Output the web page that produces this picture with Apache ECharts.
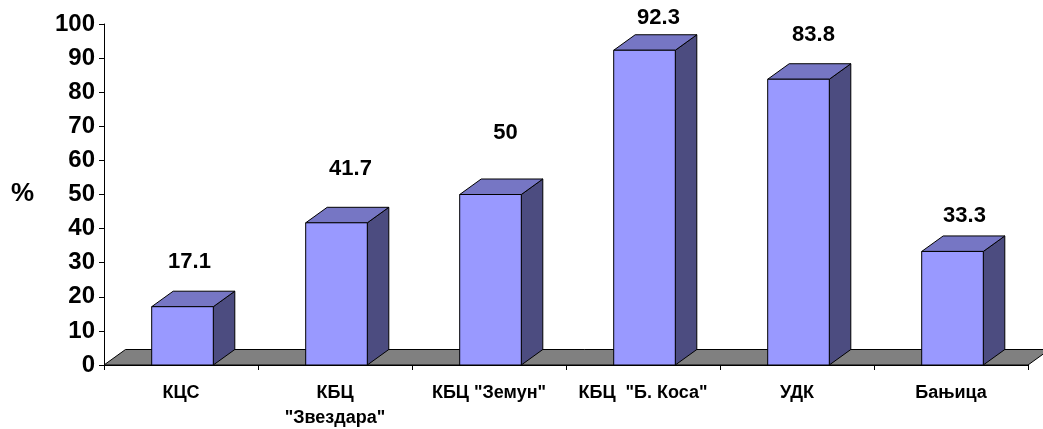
<!DOCTYPE html>
<html>
<head>
<meta charset="utf-8">
<script src="https://cdn.jsdelivr.net/npm/echarts@6/dist/echarts.min.js"></script>
<style>html,body{margin:0;padding:0;background:#fff}#c{width:1043px;height:429px}</style>
</head>
<body>
<div id="c"></div>
<script>
const categories = ['КЦС', 'КБЦ\n"Звездара"', 'КБЦ "Земун"', 'КБЦ  "Б. Коса"', 'УДК', 'Бањица'];
const values = [17.1, 41.7, 50, 92.3, 83.8, 33.3];
const valueLabels = ['17.1', '41.7', '50', '92.3', '83.8', '33.3'];
const yTicks = [0, 10, 20, 30, 40, 50, 60, 70, 80, 90, 100];

// layout / style (not data)
const DX = 21.5, DY = -15.5;
const labelLift = [29, 38, 46, 17, 29, 20];
const labelShift = [7, 14, 15, 14, 15, 12];
const FRONT = '#9999FF', TOP = '#7676C4', SIDE = '#4C4C80', FLOOR = '#808080';

const chart = echarts.init(document.getElementById('c'));
chart.setOption({
  animation: false,
  grid: { left: 104, right: 15, top: 24, bottom: 64, containLabel: false, outerBoundsMode: 'none' },
  xAxis: {
    type: 'category',
    data: categories,
    boundaryGap: true,
    axisLine: { show: true, lineStyle: { color: '#000', width: 1 } },
    axisTick: { show: true, length: 5, alignWithLabel: false, interval: 0, lineStyle: { color: '#000' } },
    axisLabel: {
      interval: 0, color: '#000', fontFamily: 'Liberation Sans, Arial, sans-serif',
      fontWeight: 'bold', fontSize: 18, margin: 16, lineHeight: 25
    },
    splitLine: { show: false }
  },
  yAxis: {
    type: 'value', min: yTicks[0], max: yTicks[yTicks.length - 1], interval: 10,
    axisLine: { show: true, lineStyle: { color: '#000', width: 1 } },
    axisTick: { show: true, length: 5, lineStyle: { color: '#000' } },
    axisLabel: {
      color: '#000', fontFamily: 'Liberation Sans, Arial, sans-serif',
      fontWeight: 'bold', fontSize: 24, margin: 9
    },
    splitLine: { show: false }
  },
  graphic: [{
    type: 'text', left: 11, top: 181,
    style: { text: '%', fill: '#000', font: 'bold 26px "Liberation Sans", Arial, sans-serif' }
  }],
  series: [
    {
      type: 'custom', z: 1, clip: false, silent: true,
      data: [[0, 0]],
      renderItem: function (params, api) {
        const cs = params.coordSys;
        const yb = cs.y + cs.height, xl = cs.x, xr = cs.x + cs.width;
        return {
          type: 'polygon',
          shape: { points: [[xl, yb], [xl + DX, yb + DY], [xr + DX, yb + DY], [xr, yb]] },
          style: { fill: FLOOR, stroke: '#000', lineWidth: 1 }
        };
      }
    },
    {
      type: 'custom', z: 2, clip: false, silent: true,
      data: values.map((v, i) => [i, v]),
      renderItem: function (params, api) {
        const i = api.value(0), v = api.value(1);
        const base = api.coord([i, 0]);
        const topP = api.coord([i, v]);
        const bw = api.size([1, 0])[0] * 0.4;
        const l = base[0] - bw / 2 + 1.5, r = l + bw, b = base[1], t = topP[1];
        const st = (f) => ({ fill: f, stroke: '#000', lineWidth: 1, lineJoin: 'round' });
        return {
          type: 'group',
          children: [
            { type: 'polygon', shape: { points: [[r, t], [r + DX, t + DY], [r + DX, b + DY], [r, b]] }, style: st(SIDE) },
            { type: 'polygon', shape: { points: [[l, t], [l + DX, t + DY], [r + DX, t + DY], [r, t]] }, style: st(TOP) },
            { type: 'polygon', shape: { points: [[l, t], [r, t], [r, b], [l, b]] }, style: st(FRONT) },
            {
              type: 'text',
              style: {
                text: valueLabels[i],
                x: (l + r) / 2 + labelShift[i],
                y: t + DY - labelLift[i],
                align: 'center', verticalAlign: 'middle',
                fill: '#000',
                font: 'bold 22px "Liberation Sans", Arial, sans-serif'
              }
            }
          ]
        };
      }
    }
  ]
});
</script>
</body>
</html>
